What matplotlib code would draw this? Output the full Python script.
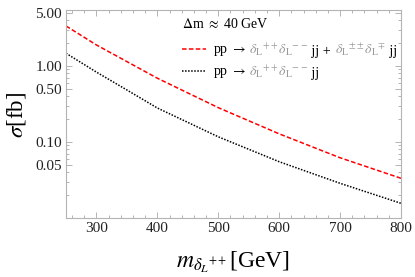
import matplotlib
matplotlib.use("Agg")
import matplotlib.pyplot as plt
from matplotlib.ticker import FixedLocator, MultipleLocator, LogLocator, NullFormatter, FixedFormatter

plt.rcParams['font.family'] = ['Liberation Serif', 'DejaVu Serif']
plt.rcParams['mathtext.fontset'] = 'stix'

# data
mass_total = [250, 300, 400, 500, 600, 700, 800]
sigma_total = [3.36, 1.89, 0.69, 0.283, 0.128, 0.062, 0.0333]
mass_pair = [250, 300, 350, 400, 450, 500, 600, 700, 800]
sigma_pair = [1.47, 0.83, 0.483, 0.28, 0.181, 0.117, 0.055, 0.0286, 0.0156]
yticks = [0.05, 0.10, 0.50, 1.00, 5.00]
ytick_labels = ["0.05", "0.10", "0.50", "1.00", "5.00"]
xticks = [300, 400, 500, 600, 700, 800]

fig = plt.figure(figsize=(4.15, 2.77), dpi=100)
ax = fig.add_axes([66/415, 1-218/277, (401-66)/415, (218-10)/277])

ax.plot(mass_total, sigma_total, color='red', ls=(0, (3, 1.5)), lw=1.1)
ax.plot(mass_pair, sigma_pair, color='black', ls=(0, (1, 1)), lw=1.1)

ax.set_yscale('log')
ax.set_xlim(250, 800)
ax.set_ylim(0.01, 5.45)

frame_col = '#b4b4b4'
for s in ax.spines.values():
    s.set_color(frame_col)
    s.set_linewidth(0.8)

ax.xaxis.set_major_locator(FixedLocator(xticks))
ax.xaxis.set_minor_locator(MultipleLocator(20))
ax.yaxis.set_major_locator(FixedLocator(yticks))
ax.yaxis.set_major_formatter(FixedFormatter(ytick_labels))
ax.yaxis.set_minor_locator(LogLocator(base=10, subs=[1, 2, 3, 4, 5, 6, 7, 8, 9], numticks=20))
ax.yaxis.set_minor_formatter(NullFormatter())
ax.tick_params(which='both', direction='in', top=True, right=True, color=frame_col,
               labelsize=11, labelcolor='#222222', width=0.7)
ax.tick_params(which='major', length=4, pad=3)
ax.tick_params(which='minor', length=2)

fig.text(233/415, 1-262/277, r"$m_{\delta_{L}{}^{++}}$[GeV]", fontsize=17, ha='center', va='center')
fig.text(16/415, 1-115/277, r"$\sigma$[fb]", fontsize=16.5, ha='center', va='center', rotation=90)

# legend
fig.text(182/415, 1-24/277, r"$\Delta$m $\approx$ 40 GeV", fontsize=10, ha='left', va='center')

gray = '#9a9a9a'

def colored_line(x0, y0, pieces, size=10):
    t = fig.text(x0/415, 1-y0/277, pieces[0][0], color=pieces[0][1], fontsize=size,
                 ha='left', va='baseline')
    prev = t
    for txt, col in pieces[1:]:
        prev = ax.annotate(txt, xy=(1, 0), xycoords=prev, xytext=(0, 0), textcoords='offset points',
                           color=col, fontsize=size, ha='left', va='bottom')
    return t

fig.add_artist(plt.Line2D([182/415, 206/415], [1-49/277, 1-49/277], color='red', ls=(0, (3, 1.5)), lw=1.1))
fig.add_artist(plt.Line2D([182/415, 206/415], [1-71/277, 1-71/277], color='black', ls=(0, (1, 1)), lw=1.1))

colored_line(213, 53, [("pp $\\rightarrow$ ", 'black'),
                       (r"$\delta_{\rm L}{}^{++}\delta_{\rm L}{}^{--}$", gray),
                       (" jj + ", 'black'),
                       (r"$\delta_{\rm L}{}^{\pm\pm}\delta_{\rm L}{}^{\mp}$", gray),
                       (" jj", 'black')])
colored_line(213, 75, [("pp $\\rightarrow$ ", 'black'),
                       (r"$\delta_{\rm L}{}^{++}\delta_{\rm L}{}^{--}$", gray),
                       (" jj", 'black')])

fig.savefig("out.png", dpi=100)
